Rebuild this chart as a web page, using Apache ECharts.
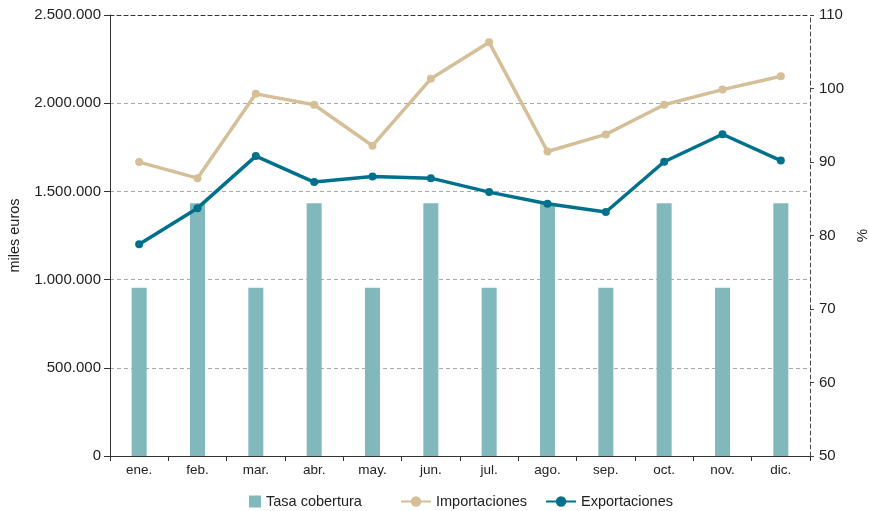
<!DOCTYPE html>
<html>
<head>
<meta charset="utf-8">
<script src="https://cdn.jsdelivr.net/npm/echarts@6/dist/echarts.min.js"></script>
<style>html,body{margin:0;padding:0;background:#fff}#c{width:869px;height:511px}</style>
</head>
<body>
<div id="c"></div>
<script>
var months = ['ene.','feb.','mar.','abr.','may.','jun.','jul.','ago.','sep.','oct.','nov.','dic.'];
var tasaCobertura = [72.9,84.4,72.9,84.4,72.9,84.4,72.9,84.4,72.9,84.4,72.9,84.4];
var importaciones = [1666000,1575000,2053000,1991000,1759000,2138000,2345000,1726000,1823000,1991000,2077000,2153000];
var exportaciones = [1200000,1405000,1700000,1553000,1585000,1575000,1496000,1430000,1383000,1668000,1824000,1675000];

var FONT = "'Liberation Sans', Arial, sans-serif";
function fmt(v){ return String(v).replace(/\B(?=(\d{3})+(?!\d))/g,'.'); }

var chart = echarts.init(document.getElementById('c'), null, {renderer:'canvas'});
chart.setOption({
  animation:false,
  textStyle:{fontFamily:FONT},
  grid:{left:110,right:59,top:15,bottom:55,containLabel:false,outerBoundsMode:'none'},
  legend:[{
    top:489, left:244, itemWidth:12, itemHeight:12, itemGap:18,
    textStyle:{fontFamily:FONT,fontSize:14.5,color:'#222'},
    data:[{name:'Tasa cobertura', icon:'rect'}]
  },{
    top:489, left:395, itemWidth:30, itemHeight:13, itemGap:18,
    textStyle:{fontFamily:FONT,fontSize:14.5,color:'#222'},
    data:[{name:'Importaciones'},{name:'Exportaciones'}]
  }],
  xAxis:[{
    type:'category', data:months, boundaryGap:true,
    axisLine:{lineStyle:{color:'#333',width:1}},
    axisTick:{show:true,inside:false,length:5,lineStyle:{color:'#333'}},
    axisLabel:{color:'#222',fontSize:13.5,fontFamily:FONT,margin:7}
  },{
    type:'category', data:months, position:'top',
    axisLine:{show:true,lineStyle:{color:'#333',type:[4,3],width:1}},
    axisTick:{show:false}, axisLabel:{show:false}
  }],
  yAxis:[{
    type:'value', min:0, max:2500000, interval:500000,
    name:'miles euros', nameLocation:'middle', nameGap:88, nameRotate:90,
    nameTextStyle:{color:'#222',fontSize:14.5,fontFamily:FONT},
    axisLine:{show:true,lineStyle:{color:'#333'}},
    axisTick:{show:true,length:6,lineStyle:{color:'#333'}},
    axisLabel:{color:'#222',fontSize:15,fontFamily:FONT,margin:9,formatter:fmt},
    splitLine:{show:true,lineStyle:{color:'#aaa',type:[4,3]}}
  },{
    type:'value', min:50, max:110, interval:10, position:'right',
    name:'%', nameLocation:'middle', nameGap:42, nameRotate:90,
    nameTextStyle:{color:'#222',fontSize:15,fontFamily:FONT},
    axisLine:{show:true,lineStyle:{color:'#444',type:[4,3]}},
    axisTick:{show:true,length:4,lineStyle:{color:'#444'}},
    axisLabel:{color:'#222',fontSize:15,fontFamily:FONT,margin:9},
    splitLine:{show:false}
  }],
  series:[{
    name:'Tasa cobertura', type:'bar', yAxisIndex:1, data:tasaCobertura,
    barWidth:15, itemStyle:{color:'#80B8BC'}
  },{
    name:'Importaciones', type:'line', data:importaciones,
    symbol:'circle', symbolSize:8,
    lineStyle:{color:'#D5BF98',width:3.5}, itemStyle:{color:'#D5BF98'}
  },{
    name:'Exportaciones', type:'line', data:exportaciones,
    symbol:'circle', symbolSize:8,
    lineStyle:{color:'#00718C',width:3.5}, itemStyle:{color:'#00718C'}
  }]
});
</script>
</body>
</html>
